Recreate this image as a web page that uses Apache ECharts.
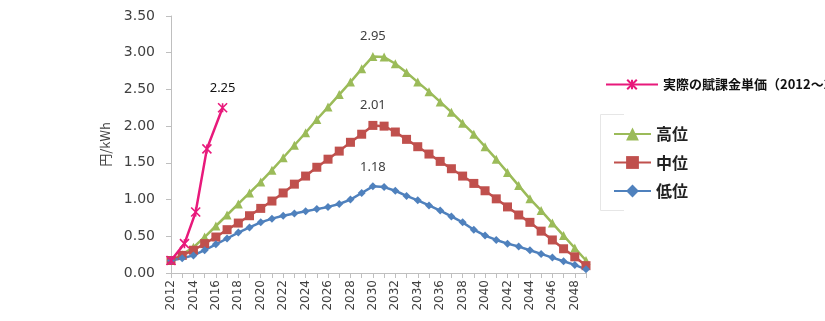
<!DOCTYPE html>
<html><head><meta charset="utf-8">
<script src="https://cdn.jsdelivr.net/npm/echarts@6/dist/echarts.min.js"></script>
<style>html,body{margin:0;padding:0;background:#fff}#c{width:825px;height:321px}</style>
</head><body><div id="c"></div>
<script>
const years = [];
for (let y = 2012; y <= 2049; y++) years.push(y);
const highVals = [0.17,0.25,0.35,0.49,0.64,0.79,0.94,1.09,1.24,1.40,1.57,1.74,1.91,2.09,2.26,2.43,2.60,2.78,2.95,
                  2.94,2.85,2.73,2.60,2.47,2.33,2.19,2.04,1.89,1.72,1.55,1.37,1.19,1.01,0.85,0.68,0.51,0.34,0.17];
const midVals  = [0.17,0.24,0.31,0.40,0.49,0.59,0.68,0.78,0.88,0.98,1.09,1.21,1.32,1.44,1.55,1.66,1.78,1.89,2.01,
                  2.00,1.92,1.82,1.72,1.62,1.52,1.42,1.32,1.22,1.12,1.01,0.90,0.79,0.69,0.57,0.45,0.33,0.22,0.10];
const lowVals  = [0.17,0.20,0.24,0.31,0.39,0.47,0.55,0.62,0.69,0.74,0.78,0.81,0.84,0.87,0.90,0.94,1.00,1.09,1.18,
                  1.17,1.12,1.05,0.99,0.92,0.85,0.77,0.69,0.59,0.51,0.45,0.40,0.36,0.31,0.26,0.21,0.16,0.11,0.05];
const actualYears = [2012, 2013.2, 2014.2, 2015.2, 2016.6];
const actualVals  = [0.17, 0.40, 0.83, 1.69, 2.25];
const peakYear = 2030;
const names = ['実際の賦課金単価（2012～2016年度）', '高位', '中位', '低位'];

const pair = (xs, vs) => xs.map((x, i) => [x, vs[i]]);
const peakLabel = {
  show: true, position: 'top', distance: 9, fontSize: 13, color: '#404040',
  fontFamily: 'Noto Sans, sans-serif',
  formatter: p => (p.value[0] === peakYear ? p.value[1].toFixed(2) : '')
};
const chart = echarts.init(document.getElementById('c'));
chart.setOption({
  animation: false,
  backgroundColor: '#fff',
  grid: { left: 171, right: 239, top: 16, bottom: 48 },
  xAxis: {
    type: 'value', min: 2012, max: 2049, interval: 2,
    axisLine: { show: true, lineStyle: { color: '#bfbfbf' } },
    axisTick: { show: true, length: 5, lineStyle: { color: '#bfbfbf' } },
    minorTick: { show: true, splitNumber: 2, length: 5, lineStyle: { color: '#bfbfbf' } },
    splitLine: { show: false },
    axisLabel: { rotate: 90, fontSize: 12, color: '#404040', showMaxLabel: false,
      fontFamily: 'DejaVu Sans, sans-serif', formatter: v => String(v), margin: 7 }
  },
  yAxis: {
    type: 'value', min: 0, max: 3.5, interval: 0.5,
    name: '円/kWh', nameLocation: 'middle', nameGap: 59, nameRotate: 90,
    nameTextStyle: { fontSize: 13, color: '#404040', fontFamily: 'Noto Sans CJK JP, sans-serif' },
    axisLine: { show: true, lineStyle: { color: '#bfbfbf' } },
    axisTick: { show: true, length: 5, lineStyle: { color: '#bfbfbf' } },
    splitLine: { show: false },
    axisLabel: { fontSize: 14, color: '#404040', formatter: v => v.toFixed(2), margin: 16,
      fontFamily: 'DejaVu Sans, sans-serif' }
  },
  legend: [
    { data: [names[0]], orient: 'vertical', left: 600, top: 73, itemWidth: 52, itemHeight: 12,
      textStyle: { fontSize: 13, fontWeight: 'bold', color: '#111', fontFamily: 'Noto Sans CJK JP, sans-serif' } },
    { data: [names[1], names[2], names[3]], orient: 'vertical', left: 608, top: 121, itemGap: 12.5,
      itemWidth: 37, itemHeight: 16,
      textStyle: { fontSize: 16, fontWeight: 'bold', color: '#222', fontFamily: 'Noto Sans CJK JP, sans-serif' } }
  ],
  graphic: [{
    type: 'polyline', silent: true,
    shape: { points: [[624, 114.5], [600.5, 114.5], [600.5, 210.5], [624, 210.5]] },
    style: { stroke: '#e6e6e6', fill: null, lineWidth: 1 }
  }],
  series: [
    { name: names[1], type: 'line', data: pair(years, highVals), symbol: 'triangle', symbolSize: 9,
      lineStyle: { color: '#9bbb59', width: 2.5 }, itemStyle: { color: '#9bbb59' }, label: peakLabel, z: 3 },
    { name: names[2], type: 'line', data: pair(years, midVals), symbol: 'rect', symbolSize: 9,
      lineStyle: { color: '#c0504d', width: 2.5 }, itemStyle: { color: '#c0504d' }, label: peakLabel, z: 3 },
    { name: names[3], type: 'line', data: pair(years, lowVals), symbol: 'diamond', symbolSize: 8,
      lineStyle: { color: '#4f81bd', width: 2.5 }, itemStyle: { color: '#4f81bd' }, label: peakLabel, z: 3 },
    { name: names[0], type: 'line', data: pair(actualYears, actualVals),
      symbol: 'path://M0,0L10,10M10,0L0,10M5,0L5,10', symbolSize: 9,
      lineStyle: { color: '#e8197b', width: 2.5 },
      itemStyle: { color: '#e8197b', borderColor: '#e8197b', borderWidth: 1.6 },
      label: { show: true, position: 'top', distance: 8, fontSize: 13, color: '#111',
        fontFamily: 'Noto Sans, sans-serif',
        formatter: p => (p.dataIndex === actualVals.length - 1 ? p.value[1].toFixed(2) : '') },
      z: 5 }
  ]
});
</script></body></html>
